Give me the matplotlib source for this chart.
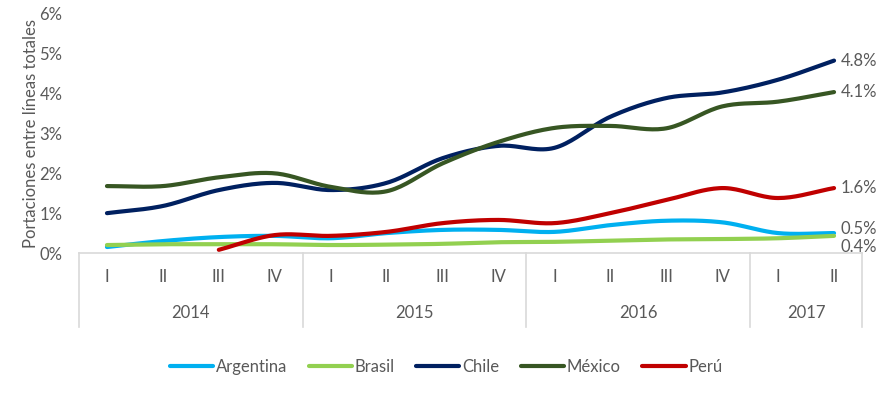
import numpy as np
import matplotlib
matplotlib.use("Agg")
import matplotlib.pyplot as plt
from matplotlib.lines import Line2D
import matplotlib.transforms as mtransforms

plt.rcParams['font.family'] = ['Lato', 'DejaVu Sans']

quarters = ["I", "II", "III", "IV", "I", "II", "III", "IV", "I", "II", "III", "IV", "I", "II"]
years = ["2014", "2015", "2016", "2017"]
year_sizes = [4, 4, 4, 2]

argentina = [0.15, 0.30, 0.40, 0.43, 0.37, 0.50, 0.58, 0.58, 0.53, 0.70, 0.81, 0.77, 0.50, 0.50]
brasil = [0.20, 0.22, 0.22, 0.22, 0.20, 0.21, 0.23, 0.27, 0.28, 0.31, 0.34, 0.35, 0.37, 0.43]
chile = [1.00, 1.18, 1.58, 1.76, 1.58, 1.76, 2.38, 2.69, 2.64, 3.42, 3.89, 4.03, 4.35, 4.83]
mexico = [1.68, 1.68, 1.90, 2.00, 1.66, 1.55, 2.25, 2.79, 3.14, 3.19, 3.13, 3.68, 3.80, 4.04]
peru = [np.nan, np.nan, 0.08, 0.45, 0.43, 0.53, 0.75, 0.83, 0.75, 1.00, 1.33, 1.63, 1.38, 1.63]

series = [
    ("Argentina", argentina, "#00B0F0", "0.5%"),
    ("Brasil", brasil, "#92D050", "0.4%"),
    ("Chile", chile, "#002060", "4.8%"),
    ("México", mexico, "#375623", "4.1%"),
    ("Perú", peru, "#C00000", "1.6%"),
]


def smooth(xs, ys, n=20):
    xs = np.asarray(xs, float)
    ys = np.asarray(ys, float)
    m = ~np.isnan(ys)
    xs, ys = xs[m], ys[m]
    px = np.concatenate([[2 * xs[0] - xs[1]], xs, [2 * xs[-1] - xs[-2]]])
    py = np.concatenate([[2 * ys[0] - ys[1]], ys, [2 * ys[-1] - ys[-2]]])
    ox, oy = [], []
    for i in range(1, len(px) - 2):
        p0x, p1x, p2x, p3x = px[i - 1], px[i], px[i + 1], px[i + 2]
        p0y, p1y, p2y, p3y = py[i - 1], py[i], py[i + 1], py[i + 2]
        c1x = p1x + (p2x - p0x) / 6
        c1y = p1y + (p2y - p0y) / 6
        c2x = p2x - (p3x - p1x) / 6
        c2y = p2y - (p3y - p1y) / 6
        t = np.linspace(0, 1, n, endpoint=(i == len(px) - 3))
        bx = (1 - t) ** 3 * p1x + 3 * (1 - t) ** 2 * t * c1x + 3 * (1 - t) * t ** 2 * c2x + t ** 3 * p2x
        by = (1 - t) ** 3 * p1y + 3 * (1 - t) ** 2 * t * c1y + 3 * (1 - t) * t ** 2 * c2y + t ** 3 * p2y
        ox.extend(bx)
        oy.extend(by)
    return np.array(ox), np.array(oy)


fs = 12
fig = plt.figure(figsize=(8.85, 3.97), dpi=100)
ax = fig.add_axes([79 / 885, 1 - 253 / 397, (862 - 79) / 885, (253 - 14) / 397])

x = np.arange(len(quarters))
txt_color = "#595959"
grid_color = "#D9D9D9"

label_offsets = {"Argentina": 3, "Brasil": -8, "Chile": 0, "México": 0, "Perú": 0}
for name, vals, col, lab in series:
    sx, sy = smooth(x, vals)
    ax.plot(sx, sy, color=col, lw=3.0, solid_capstyle='round', zorder=3)
    ax.annotate(lab, xy=(x[-1], vals[-1]), xytext=(5, label_offsets[name]),
                textcoords='offset points', va='center', ha='left',
                fontsize=fs, color=txt_color, annotation_clip=False)

ax.set_xlim(-0.5, len(quarters) - 0.5)
ax.set_ylim(0, 6)
ax.set_yticks(np.arange(0, 7, 1))
ax.set_yticklabels([f"{v}%" for v in range(7)])
ax.tick_params(axis='y', length=0, labelsize=fs, labelcolor=txt_color, pad=12)
ax.set_xticks([])
for s in ["left", "right", "bottom", "top"]:
    ax.spines[s].set_visible(False)
ax.set_ylabel("Portaciones entre líneas totales", fontsize=fs, color=txt_color, labelpad=0.5)

# multi-level category axis
trans = mtransforms.blended_transform_factory(ax.transData, ax.transAxes)
ax.plot([-0.5, len(quarters) - 0.5], [0, 0], transform=trans, color=grid_color, lw=1.2, clip_on=False)
for i, q in enumerate(quarters):
    ax.text(i, -0.10, q, transform=trans, ha='center', va='center', fontsize=fs, color=txt_color)
start = 0
bounds = [-0.5]
for yname, size in zip(years, year_sizes):
    ax.text(start + (size - 1) / 2, -0.25, yname, transform=trans, ha='center', va='center',
            fontsize=fs, color=txt_color)
    start += size
    bounds.append(start - 0.5)
for b in bounds:
    ax.plot([b, b], [0, -0.31], transform=trans, color=grid_color, lw=1.2, clip_on=False)

handles = [Line2D([0], [0], color=col, lw=3.0, solid_capstyle='round') for _, _, col, _ in series]
fig.legend(handles, [s[0] for s in series], loc='center', bbox_to_anchor=(446 / 885, 1 - 367 / 397),
           ncol=5, frameon=False, fontsize=fs, labelcolor=txt_color, handlelength=2.6,
           handletextpad=0.15, columnspacing=1.3)

fig.savefig("out.png", dpi=100)
